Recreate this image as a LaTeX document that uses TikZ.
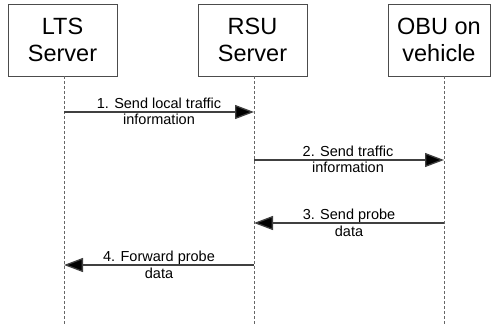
\documentclass[tikz,border=0pt]{standalone}
\usepackage{fontspec}
\setmainfont{Liberation Sans}
\usetikzlibrary{arrows.meta,calc}
\begin{document}
\begin{tikzpicture}[x=1pt,y=-1pt,
  actor/.style={draw=black!70, line width=0.9pt, fill=white, align=center, inner sep=0pt,
    minimum height=72pt, font=\fontsize{23.5}{27}\selectfont},
  life/.style={draw=black!60, line width=0.7pt, dash pattern=on 3pt off 2pt},
  msg/.style={draw=black!75, line width=1.3pt, -{Triangle[length=19pt,width=14pt,fill=black]}},
  lbl/.style={align=center, inner sep=0pt, font=\fontsize{14.5}{16.5}\selectfont}]
\useasboundingbox (0,0) rectangle (491,325);
% actors
\node[actor, minimum width=109pt] (lts) at (62.5,40) {LTS\\Server};
\node[actor, minimum width=109pt] (rsu) at (252.5,40) {RSU\\Server};
\node[actor, minimum width=102pt] (obu) at (439,40) {OBU on\\vehicle};
% lifeline ends
\coordinate (le) at (64,325);
\coordinate (re) at (254,325);
\coordinate (oe) at (444,325);
\draw[life] (lts.south -| le) -- (le);
\draw[life] (rsu.south -| re) -- (re);
\draw[life] (obu.south -| oe) -- (oe);
% message points
\coordinate (m1a) at (64,112);  \coordinate (m1b) at (254,112);
\coordinate (m2a) at (254,160); \coordinate (m2b) at (444,160);
\coordinate (m3a) at (444,223); \coordinate (m3b) at (254,223);
\coordinate (m4a) at (254,265); \coordinate (m4b) at (64,265);
\draw[msg] (m1a) -- (m1b);
\draw[msg] (m2a) -- (m2b);
\draw[msg] (m3a) -- (m3b);
\draw[msg] (m4a) -- (m4b);
% labels
\node[lbl] (t1) at ($(m1a)!0.5!(m1b)+(0,-0.5)$) {1. Send local traffic\\information};
\node[lbl] (t2) at ($(m2a)!0.5!(m2b)+(-1,-0.5)$) {2. Send traffic\\information};
\node[lbl] (t3) at ($(m3a)!0.5!(m3b)+(0,0)$) {3. Send probe\\data};
\node[lbl] (t4) at ($(m4a)!0.5!(m4b)+(0,0)$) {4. Forward probe\\data};
\end{tikzpicture}
\end{document}
